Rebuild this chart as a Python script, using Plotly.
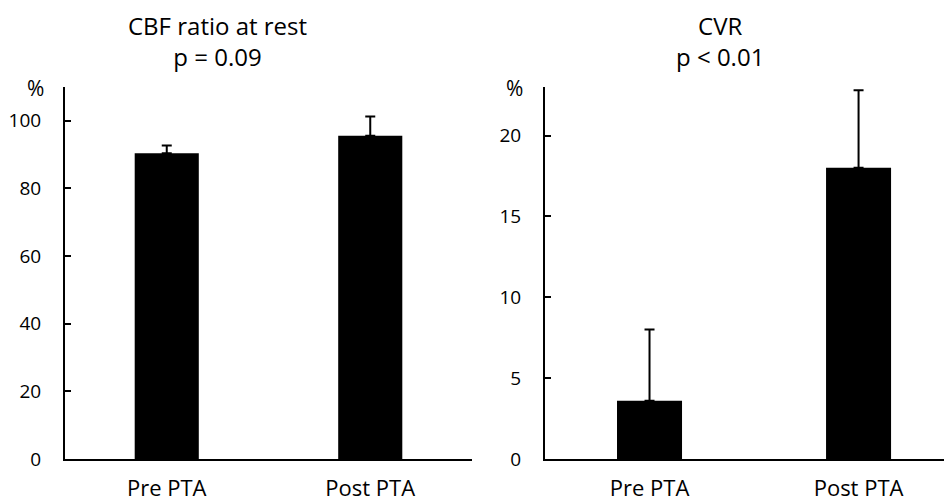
import plotly.graph_objects as go

categories = ["Pre PTA", "Post PTA"]
cbf_values = [90.4, 95.6]
cbf_err = [2.3, 5.7]
cvr_values = [3.6, 18.0]
cvr_err = [4.4, 4.8]
cbf_ticks = [0, 20, 40, 60, 80, 100]
cvr_ticks = [0, 5, 10, 15, 20]
titles = ["CBF ratio at rest<br>p = 0.09", "CVR<br>p < 0.01"]

FONT = "Open Sans"
OFF = 8  # page body margin offset
W, H = 952 - OFF, 503 - OFF


def fx(x):
    return (x - OFF) / W


def fy(y):
    return 1 - (y - OFF) / H


fig = go.Figure()
fig.add_trace(go.Bar(
    x=categories, y=cbf_values, width=0.315, marker=dict(color="black", line=dict(width=0)),
    error_y=dict(type="data", array=cbf_err, arrayminus=[0, 0], symmetric=False,
                 color="black", thickness=2, width=5),
    xaxis="x", yaxis="y", showlegend=False))
fig.add_trace(go.Bar(
    x=categories, y=cvr_values, width=0.311, marker=dict(color="black", line=dict(width=0)),
    error_y=dict(type="data", array=cvr_err, arrayminus=[0, 0], symmetric=False,
                 color="black", thickness=2, width=5),
    xaxis="x2", yaxis="y2", showlegend=False))

axis_common = dict(showline=True, linecolor="black", linewidth=2, showgrid=False,
                   zeroline=False, fixedrange=True, automargin=False)

fig.update_layout(
    width=W, height=H, margin=dict(l=0, r=0, t=0, b=0, autoexpand=False),
    plot_bgcolor="white", paper_bgcolor="white",
    font=dict(family=FONT, color="black"),
    xaxis=dict(domain=[fx(65), fx(472)], range=[-0.5, 1.5], anchor="y",
               ticks="", tickfont=dict(size=22), ticklabelstandoff=9, **axis_common),
    yaxis=dict(domain=[fy(459), fy(87)], range=[0, 110], anchor="x", tickvals=cbf_ticks,
               ticks="inside", ticklen=6, tickwidth=2, tickcolor="black",
               tickfont=dict(size=19), ticklabelstandoff=18, **axis_common),
    xaxis2=dict(domain=[fx(545), 1.0], range=[-0.5, 1.447], anchor="y2",
                ticks="", tickfont=dict(size=22), ticklabelstandoff=9, **axis_common),
    yaxis2=dict(domain=[fy(459), fy(87)], range=[0, 23], anchor="x2", tickvals=cvr_ticks,
                ticks="inside", ticklen=6, tickwidth=2, tickcolor="black",
                tickfont=dict(size=19), ticklabelstandoff=18, **axis_common),
)


def ann(text, x, y, size, yanchor="middle"):
    fig.add_annotation(text=text, x=fx(x), y=y, xref="paper", yref="paper",
                       showarrow=False, font=dict(size=size, family=FONT, color="black"),
                       xanchor="center", yanchor=yanchor, borderpad=0)


ann(titles[0], 217, 1.0, 24, "top")
ann(titles[1], 720, 1.0, 24, "top")
ann("%", 35, fy(88), 21)
ann("%", 514, fy(88), 21)

fig.write_html("out.html")
